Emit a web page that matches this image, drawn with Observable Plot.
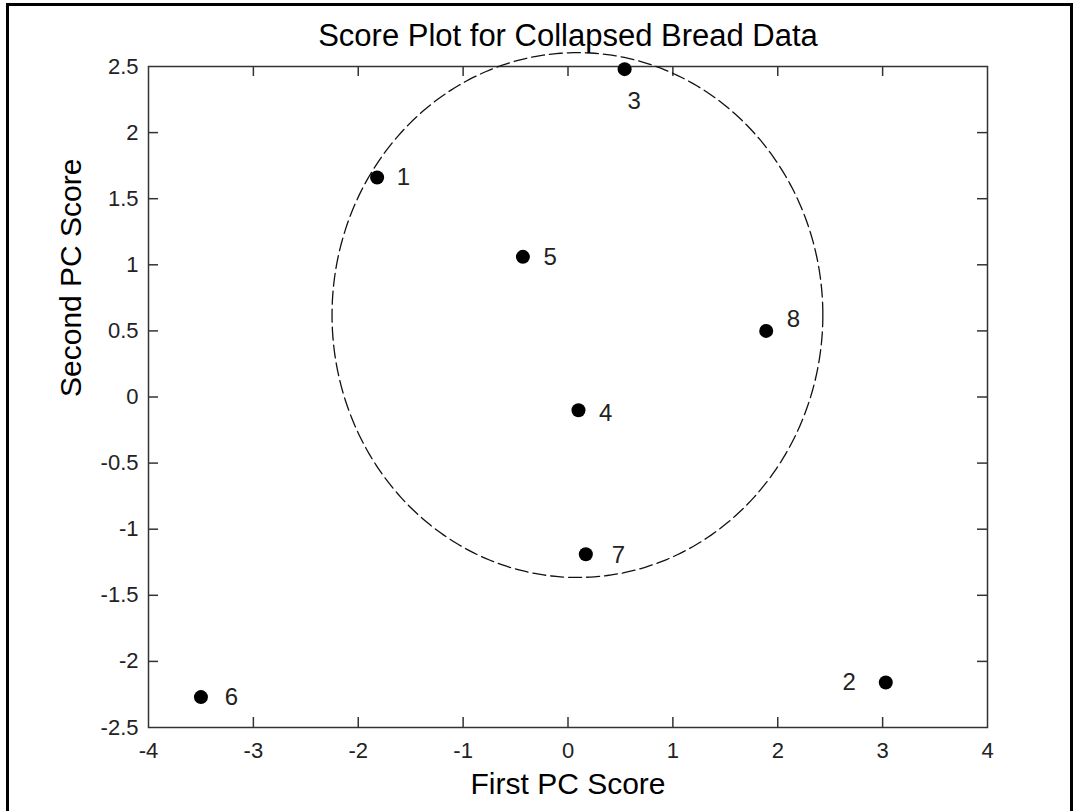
<!DOCTYPE html>
<html><head><meta charset="utf-8">
<script src="https://cdn.jsdelivr.net/npm/d3@7"></script>
<script src="https://cdn.jsdelivr.net/npm/@observablehq/plot@0.6"></script>
<style>
html,body{margin:0;padding:0;background:#fff;overflow:hidden;width:1078px;height:811px}
#chart{position:absolute;left:0;top:0}
#frame{position:absolute;left:6px;top:3px;width:1067px;height:840px;border:3px solid #000;box-sizing:border-box;pointer-events:none}
</style></head><body>
<div id="chart"></div><div id="frame"></div>
<script>
// Data
const ids    = ["1", "2", "3", "4", "5", "6", "7", "8"];
const pc1    = [-1.82, 3.03, 0.54, 0.10, -0.43, -3.50, 0.17, 1.89];
const pc2    = [1.66, -2.16, 2.48, -0.10, 1.06, -2.27, -1.19, 0.50];
const labelX = [-1.57, 2.68, 0.63, 0.36, -0.17, -3.21, 0.48, 2.15];
const labelY = [1.66, -2.16, 2.24, -0.12, 1.06, -2.27, -1.20, 0.59];
const xTicks = [-4, -3, -2, -1, 0, 1, 2, 3, 4];
const yTicks = [-2.5, -2, -1.5, -1, -0.5, 0, 0.5, 1, 1.5, 2, 2.5];
const ellipseCenter = [0.09, 0.62];
const ellipseRadii  = [2.34, 1.985];
const titleText = "Score Plot for Collapsed Bread Data";
const xLabel = "First PC Score";
const yLabel = "Second PC Score";

const points = ids.map((id, i) => ({id, x: pc1[i], y: pc2[i], lx: labelX[i], ly: labelY[i]}));
const ellipse = d3.range(0, 361, 1).map(a => {
  const t = a * Math.PI / 180;
  return {x: ellipseCenter[0] + ellipseRadii[0] * Math.cos(t), y: ellipseCenter[1] + ellipseRadii[1] * Math.sin(t)};
});

const W = 1078, H = 811, mL = 148, mR = 91, mT = 66, mB = 84;
const pW = W - mL - mR, pH = H - mT - mB, tk = 10;
const font = "'Liberation Sans', Arial, Helvetica, sans-serif";
const ink = "#222";

const chart = Plot.plot({
  width: W, height: H,
  marginLeft: mL, marginRight: mR, marginTop: mT, marginBottom: mB,
  style: {fontFamily: font, fontSize: "22px", color: ink, background: "transparent", overflow: "visible"},
  x: {domain: [-4, 4], axis: null},
  y: {domain: [-2.5, 2.5], axis: null},
  marks: [
    Plot.frame({stroke: "#333", strokeWidth: 1.5}),
    Plot.tickX(xTicks.slice(1, -1), {x: d => d, insetTop: pH - tk, stroke: "#333", strokeWidth: 1.5}),
    Plot.tickX(xTicks.slice(1, -1), {x: d => d, insetBottom: pH - tk, stroke: "#333", strokeWidth: 1.5}),
    Plot.tickY(yTicks.slice(1, -1), {y: d => d, insetRight: pW - tk, stroke: "#333", strokeWidth: 1.5}),
    Plot.tickY(yTicks.slice(1, -1), {y: d => d, insetLeft: pW - tk, stroke: "#333", strokeWidth: 1.5}),
    Plot.text(xTicks, {x: d => d, text: d => String(d), frameAnchor: "bottom", lineAnchor: "top", dy: 15, fontSize: 22, fill: ink, fontFamily: font}),
    Plot.text(yTicks, {y: d => d, text: d => String(d), frameAnchor: "left", textAnchor: "end", dx: -10, fontSize: 22, fill: ink, fontFamily: font}),
    Plot.line(ellipse, {x: "x", y: "y", stroke: "#111", strokeWidth: 1.3, strokeDasharray: "13,5", clip: false}),
    Plot.dot(points, {x: "x", y: "y", r: 7, fill: "#000", stroke: "none"}),
    Plot.text(points, {x: "lx", y: "ly", text: "id", fontSize: 24, fill: ink, fontFamily: font}),
    Plot.text([titleText], {frameAnchor: "top", dy: -21, lineAnchor: "bottom", fontSize: 31, fill: "#000", fontFamily: font}),
    Plot.text([xLabel], {frameAnchor: "bottom", dy: 66, lineAnchor: "bottom", fontSize: 30, fill: "#000", fontFamily: font}),
    Plot.text([yLabel], {frameAnchor: "left", dx: -68, rotate: -90, lineAnchor: "bottom", fontSize: 30, fill: "#000", fontFamily: font})
  ]
});
document.getElementById("chart").appendChild(chart);
</script>
</body></html>
